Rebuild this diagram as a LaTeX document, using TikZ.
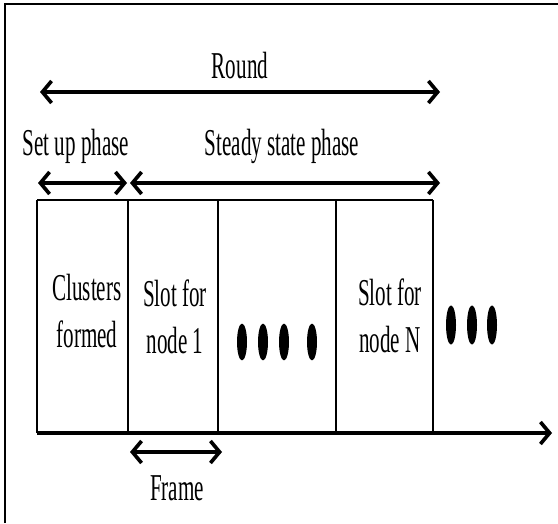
\documentclass[tikz,border=0pt]{standalone}
\usepackage{fontspec}
\setmainfont{Liberation Serif}
\usetikzlibrary{arrows.meta}
\tikzset{
  lbl/.style={font=\fontsize{15}{18.5}\selectfont, align=center, yscale=1.8, transform shape, inner sep=0pt},
  barb/.tip={Straight Barb[length=2.3mm,width=5.5mm]},
  span/.style={line width=2.6pt, barb-barb},
}
\begin{document}
\begin{tikzpicture}
\useasboundingbox (0,0) rectangle (13.95,13.075);
\draw[line width=1.2pt] (0.125,0) -- (0.125,12.975) -- (13.95,12.975);

% slot boundaries
\foreach \n/\x in {0/0.925,1/3.2,2/5.45,3/8.4,4/10.825} {
  \coordinate (t\n) at (\x,8.075);
  \coordinate (b\n) at (\x,2.25);
}
\coordinate (tend) at (13.8,2.25);
\coordinate (rl) at (1.0,10.775);
\coordinate (rr) at (11.0,10.775);
\coordinate (sl) at (0.95,8.5);
\coordinate (sm) at (3.175,8.5);
\coordinate (ml) at (3.25,8.5);
\coordinate (mr) at (11.0,8.5);
\coordinate (fl) at (3.25,1.775);
\coordinate (fr) at (5.55,1.775);

\draw[line width=2pt] (t0) -- (t4);
\foreach \n in {0,...,4} \draw[line width=1.4pt] (t\n) -- (b\n);
\draw[line width=2.6pt, -barb] (b0) -- (tend);

\draw[span] (rl) -- (rr);
\draw[span] (sl) -- (sm);
\draw[span] (ml) -- (mr);
\draw[span] (fl) -- (fr);

\node[lbl] (round) at (6.0,11.425) {Round};
\node[lbl] (setup) at (1.9,9.425) {Set up phase};
\node[lbl] (steady) at (7.05,9.425) {Steady state phase};
\node[lbl] (clusters) at (2.175,5.3) {Clusters\\formed};
\node[lbl] (slot1) at (4.375,5.15) {Slot for\\node 1};
\node[lbl] (slotN) at (9.75,5.175) {Slot for\\node N};
\node[lbl] (frame) at (4.425,0.875) {Frame};

% dots
\foreach \x in {6.05,6.575,7.1,7.8} \fill (\x,4.525) ellipse (0.125 and 0.46);
\foreach \x in {11.275,11.8,12.3} \fill (\x,4.95) ellipse (0.125 and 0.49);
\end{tikzpicture}
\end{document}
